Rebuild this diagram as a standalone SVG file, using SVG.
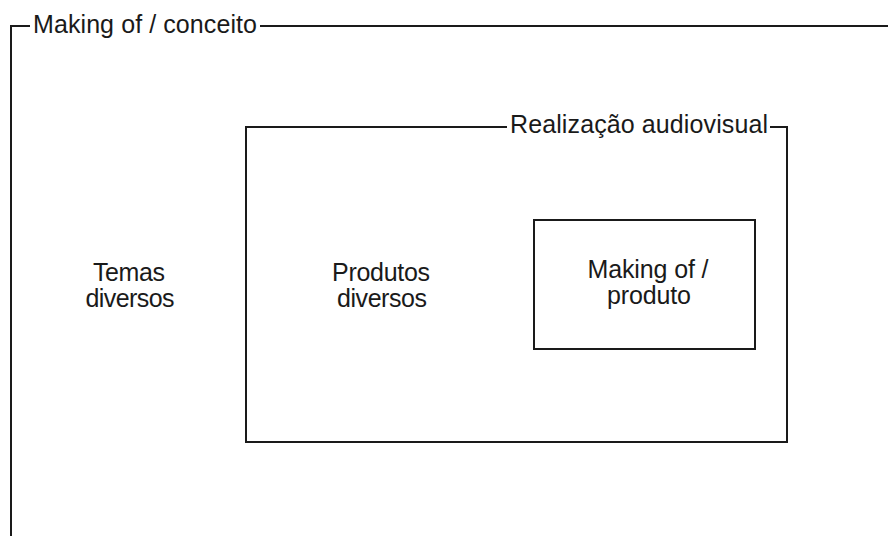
<svg xmlns="http://www.w3.org/2000/svg" width="888" height="536" viewBox="0 0 888 536">
<style>
.ln{fill:none;stroke:#1a1a1a;stroke-width:2}
text{font-family:"Liberation Sans",Arial,sans-serif;font-size:25px;fill:#1a1a1a}
.c{text-anchor:middle}
</style>
<rect width="888" height="536" fill="#fff"/>
<g id="making-conceito">
<path class="ln" d="M11 536 V26 H30 M260 26 H888"/>
<text x="33" y="33" textLength="224" lengthAdjust="spacing">Making of / conceito</text>
</g>
<g id="realizacao">
<path class="ln" d="M507 127 H246 V442 H787 V127 H770"/>
<text x="510" y="133" textLength="258" lengthAdjust="spacing">Realização audiovisual</text>
</g>
<g id="temas">
<text class="c" x="129" y="281" textLength="72" lengthAdjust="spacing">Temas</text>
<text class="c" x="130" y="307" textLength="89" lengthAdjust="spacing">diversos</text>
</g>
<g id="produtos">
<text class="c" x="381" y="281" textLength="98" lengthAdjust="spacing">Produtos</text>
<text class="c" x="382" y="307" textLength="90" lengthAdjust="spacing">diversos</text>
</g>
<g id="making-produto">
<rect class="ln" x="534" y="220" width="221" height="129"/>
<text class="c" x="648" y="278" textLength="121" lengthAdjust="spacing">Making of /</text>
<text class="c" x="649" y="304" textLength="84" lengthAdjust="spacing">produto</text>
</g>
<g id="connectors"></g>
</svg>
